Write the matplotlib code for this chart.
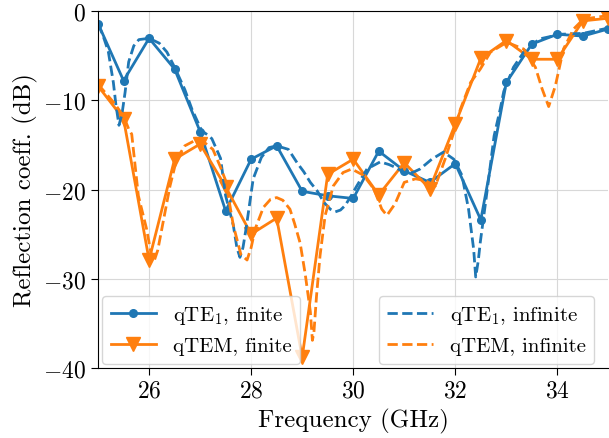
import matplotlib
matplotlib.use("Agg")
import matplotlib.pyplot as plt

plt.rcParams['font.family'] = 'serif'
plt.rcParams['font.serif'] = ['cmr10']
plt.rcParams['mathtext.fontset'] = 'cm'
plt.rcParams['axes.formatter.use_mathtext'] = True
plt.rcParams['axes.unicode_minus'] = True

# finite arrays (0.5 GHz sampling)
f_fin = [25.0, 25.5, 26.0, 26.5, 27.0, 27.5, 28.0, 28.5, 29.0, 29.5, 30.0,
         30.5, 31.0, 31.5, 32.0, 32.5, 33.0, 33.5, 34.0, 34.5, 35.0]
qte1_fin = [-1.4, -7.8, -3.05, -6.5, -13.5, -22.4, -16.6, -15.1, -20.2, -20.7, -21.0,
            -15.7, -17.9, -19.2, -17.1, -23.4, -8.0, -3.7, -2.6, -2.8, -2.0]
qtem_fin = [-8.4, -12.1, -27.9, -16.6, -14.9, -19.7, -25.0, -23.2, -38.8, -18.3, -16.6,
            -20.6, -17.0, -19.9, -12.65, -5.3, -3.3, -5.4, -5.4, -1.1, -0.8]

# infinite arrays (dense)
f_te1_inf = [25.0, 25.1, 25.2, 25.3, 25.35, 25.41, 25.47, 25.53, 25.6, 25.7, 25.8, 26.0,
             26.2, 26.35, 26.5, 26.7, 26.84, 27.03, 27.15, 27.23, 27.4, 27.5, 27.65, 27.72,
             27.78, 27.84, 27.9, 28.04, 28.2, 28.35, 28.5, 28.73, 28.9, 29.03, 29.16, 29.3,
             29.42, 29.55, 29.65, 29.75, 29.84, 29.95, 30.07, 30.27, 30.53, 30.7, 30.82,
             31.0, 31.08, 31.2, 31.31, 31.54, 31.77, 31.97, 32.13, 32.26, 32.36, 32.4,
             32.45, 32.49, 32.62, 32.76, 32.88, 32.95, 33.14, 33.4, 33.67, 34.06, 34.5, 35.0]
qte1_inf = [-1.4, -2.8, -4.5, -8.0, -10.5, -12.8, -11.5, -9.1, -5.7, -3.9, -3.2, -3.05,
            -3.6, -4.6, -6.3, -8.8, -11.0, -13.4, -13.9, -14.3, -16.5, -20.7, -24.0, -26.5,
            -27.6, -26.5, -24.4, -18.8, -16.4, -15.3, -15.1, -15.5, -17.0, -18.0, -19.2, -20.2,
            -21.4, -22.2, -22.5, -22.3, -21.8, -20.8, -19.6, -17.7, -16.9, -17.2, -17.5,
            -18.1, -18.25, -18.0, -17.7, -16.6, -15.8, -16.6, -18.4, -22.2, -26.7, -29.8,
            -28.0, -25.9, -20.3, -14.0, -11.0, -9.0, -6.3, -4.1, -3.1, -2.6, -2.5, -1.9]

f_tem_inf = [25.0, 25.15, 25.33, 25.5, 25.6, 25.66, 25.79, 25.95, 26.05, 26.1, 26.17, 26.25,
             26.41, 26.54, 26.7, 26.9, 27.1, 27.25, 27.4, 27.5, 27.65, 27.8, 27.92, 28.0,
             28.08, 28.24, 28.38, 28.5, 28.62, 28.76, 28.85, 28.96, 29.06, 29.16, 29.2, 29.23,
             29.28, 29.35, 29.45, 29.61, 29.8, 29.97, 30.2, 30.4, 30.56, 30.66, 30.82, 31.0,
             31.22, 31.41, 31.61, 31.8, 31.97, 32.1, 32.3, 32.49, 32.69, 33.01, 33.34, 33.57,
             33.7, 33.83, 33.96, 34.12, 34.32, 34.51, 35.0]
qtem_inf = [-8.2, -9.2, -10.4, -11.8, -13.2, -13.8, -20.7, -24.4, -27.5, -28.0, -26.8, -24.4,
            -19.6, -16.6, -15.1, -14.5, -14.8, -15.5, -17.5, -19.0, -24.0, -27.3, -27.9, -26.5,
            -24.4, -22.0, -21.1, -20.9, -21.2, -22.2, -23.8, -26.0, -29.5, -33.7, -36.9, -36.0,
            -32.0, -27.4, -22.9, -19.6, -18.1, -17.7, -18.4, -19.9, -22.2, -22.9, -21.6, -19.2,
            -18.8, -19.0, -19.6, -16.6, -13.6, -11.0, -8.0, -6.5, -4.6, -3.5, -4.25, -6.3,
            -8.7, -10.7, -8.4, -4.25, -2.0, -0.9, -0.5]

xticks = [26, 28, 30, 32, 34]
yticks = [0, -10, -20, -30, -40]

c_blue = '#1f77b4'
c_orange = '#ff7f0e'

fig = plt.figure(figsize=(6.09, 4.39), dpi=100)
ax = fig.add_axes([0.161, 0.1595, 0.838, 0.813])

l1, = ax.plot(f_fin, qte1_fin, '-o', color=c_blue, lw=2, ms=5.5, label=r'qTE$_1$, finite')
l2, = ax.plot(f_fin, qtem_fin, '-v', color=c_orange, lw=2, ms=10, label='qTEM, finite')
l3, = ax.plot(f_te1_inf, qte1_inf, '--', color=c_blue, lw=2, label=r'qTE$_1$, infinite')
l4, = ax.plot(f_tem_inf, qtem_inf, '--', color=c_orange, lw=2, label='qTEM, infinite')

ax.set_xlim(25, 35)
ax.set_ylim(-40, 0)
ax.set_xticks(xticks)
ax.set_yticks(yticks)
ax.grid(True, color='#d8d8d8', lw=0.8)
ax.tick_params(labelsize=17, length=5)
ax.set_xlabel('Frequency (GHz)', fontsize=18)
ax.set_ylabel('Reflection coeff. (dB)', fontsize=18)
ax.spines['right'].set_visible(False)

leg1 = ax.legend(handles=[l1, l2], loc='lower left', fontsize=15, framealpha=0.8,
                 borderaxespad=0.2, handlelength=2.2)
ax.add_artist(leg1)
ax.legend(handles=[l3, l4], loc='lower right', fontsize=15, framealpha=0.8,
          borderaxespad=0.2, handlelength=2.2, bbox_to_anchor=(0.98, 0.0))

fig.savefig('out.png', dpi=100)
